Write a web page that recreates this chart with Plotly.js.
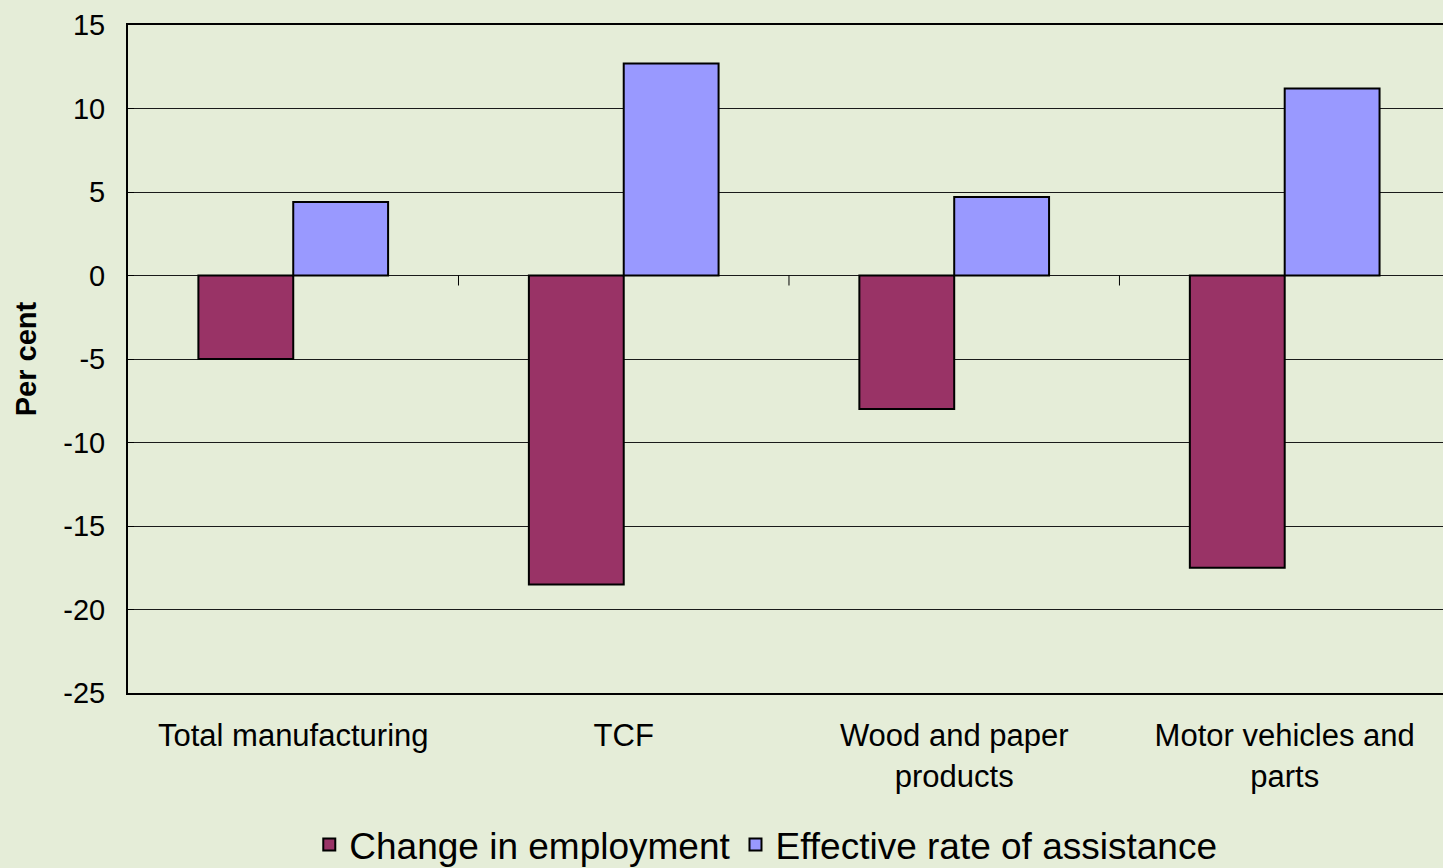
<!DOCTYPE html>
<html>
<head>
<meta charset="utf-8">
<script src="https://cdn.plot.ly/plotly-3.0.1.min.js"></script>
<style>html,body{margin:0;padding:0;background:#E5EDD8;}#chart{width:1443px;height:868px;}</style>
</head>
<body>
<div id="chart"></div>
<script>
const categories = ["Total manufacturing", "TCF", "Wood and paper<br>products", "Motor vehicles and<br>parts"];
const changeInEmployment = [-5.0, -18.5, -8.0, -17.5];
const effectiveRateOfAssistance = [4.4, 12.7, 4.7, 11.2];
const seriesNames = ["Change in employment", "Effective rate of assistance"];
const yTicks = [-25, -20, -15, -10, -5, 0, 5, 10, 15];

const FONT = "Liberation Sans, Arial, sans-serif";

const traces = [
  {type: "bar", name: seriesNames[0], x: categories, y: changeInEmployment,
   marker: {color: "#993366", line: {color: "#000", width: 2}}},
  {type: "bar", name: seriesNames[1], x: categories, y: effectiveRateOfAssistance,
   marker: {color: "#9999FF", line: {color: "#000", width: 2}}}
];

// category-boundary tick marks on the zero line
const tickShapes = categories.slice(0, -1).map((c, i) => ({
  type: "line", xref: "x", yref: "y", x0: i + 0.5, x1: i + 0.5,
  ysizemode: "pixel", yanchor: 0, y0: 0, y1: -10,
  line: {color: "#000", width: 1}
}));

const layout = {
  width: 1443, height: 868,
  paper_bgcolor: "#E5EDD8", plot_bgcolor: "#E5EDD8",
  margin: {l: 128, r: 0, t: 25, b: 175, autoexpand: false},
  font: {family: FONT, color: "#000"},
  barmode: "group", bargap: 0.426, bargroupgap: 0,
  showlegend: true,
  legend: {orientation: "h", x: 0.485, xanchor: "center", y: -0.2275, yanchor: "middle",
           font: {size: 37, family: FONT}, bgcolor: "rgba(0,0,0,0)", traceorder: "normal"},
  xaxis: {type: "category", range: [-0.5, 3.479], showgrid: false, zeroline: false,
          showline: true, linecolor: "#000", linewidth: 2, mirror: true,
          ticks: "", tickfont: {size: 31, family: FONT}, ticklabelstandoff: 14, fixedrange: true},
  yaxis: {range: [-25, 15], tickvals: yTicks, ticktext: yTicks.map(String),
          showgrid: true, gridcolor: "#1a1a1a", gridwidth: 1,
          zeroline: true, zerolinecolor: "#1a1a1a", zerolinewidth: 1.5,
          showline: true, linecolor: "#000", linewidth: 2,
          ticks: "inside", ticklen: 6, tickcolor: "#000", tickwidth: 1,
          tickfont: {size: 29, family: FONT}, ticklabelstandoff: 15,
          title: {text: "<b>Per cent</b>", font: {size: 29, family: FONT}, standoff: 18},
          fixedrange: true},
  shapes: tickShapes
};

Plotly.newPlot("chart", traces, layout, {displayModeBar: false, staticPlot: true});
</script>
</body>
</html>
